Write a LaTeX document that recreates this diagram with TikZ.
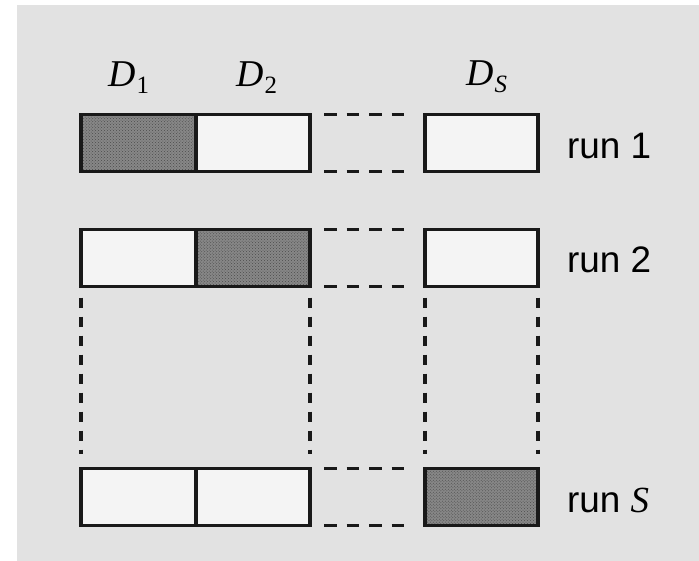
\documentclass[tikz,border=0pt]{standalone}
\usepackage{fontspec}
\setmainfont{Liberation Serif}
\setsansfont{Liberation Sans}
\usetikzlibrary{patterns}
\definecolor{bg}{RGB}{226,226,226}
\definecolor{cellfill}{RGB}{244,244,244}
\definecolor{shadefill}{RGB}{135,135,135}
\newcommand{\Dlab}[1]{\fontsize{38}{38}\selectfont\textit{D}\kern1bp\raisebox{-7bp}{\fontsize{25}{25}\selectfont #1}}
\begin{document}
\begin{tikzpicture}[x=1bp,y=-1bp,
  cell/.style={draw=black!90, line width=3.8bp, minimum width=#1, minimum height=57bp,
    inner sep=0pt, outer sep=0pt, fill=cellfill},
  hotcell/.style={draw=black!90, line width=3.8bp, minimum width=#1, minimum height=57bp,
    inner sep=0pt, outer sep=0pt, preaction={fill=shadefill},
    pattern=crosshatch dots, pattern color=black!70},
  hdash/.style={draw=black!90, line width=3.4bp, dash pattern=on 12.5bp off 10bp,
    shorten <=14bp, shorten >=21bp},
  vdash/.style={draw=black!90, line width=3.4bp, dash pattern=on 10bp off 9bp,
    shorten <=11bp, shorten >=15bp},
  dlab/.style={anchor=base west, inner sep=0pt},
  runlab/.style={anchor=base west, inner sep=0pt, font=\sffamily\fontsize{37}{37}\selectfont}
]
\useasboundingbox (0,0) rectangle (699,561);
\fill[white] (0,0) rectangle (699,561);
\fill[bg] (17,5) rectangle (699,561);

% column labels
\node[dlab] (d1) at (108,87) {\Dlab{1}};
\node[dlab] (d2) at (236,87) {\Dlab{2}};
\node[dlab] (ds) at (466,86) {\Dlab{\textit{S}}};

% run 1
\node[hotcell=115bp] (r1a) at (138.5,143) {};
\node[cell=114bp] (r1b) at (253,143) {};
\node[cell=113bp] (r1s) at (481.5,143) {};
% run 2
\node[cell=115bp] (r2a) at (138.5,258) {};
\node[hotcell=114bp] (r2b) at (253,258) {};
\node[cell=113bp] (r2s) at (481.5,258) {};
% run S
\node[cell=115bp] (rSa) at (138.5,497) {};
\node[cell=114bp] (rSb) at (253,497) {};
\node[hotcell=113bp] (rSs) at (481.5,497) {};

% redraw outer borders over pattern edges
\foreach \n in {r1a,r1b,r1s,r2a,r2b,r2s,rSa,rSb,rSs}
  \draw[black!90, line width=3.8bp] (\n.north west) rectangle (\n.south east);

% horizontal dashed connectors
\foreach \r in {r1,r2,rS}{
  \draw[hdash] (\r b.north east) -- (\r s.north west);
  \draw[hdash] (\r b.south east) -- (\r s.south west);
}

% vertical dashed connectors
\draw[vdash] (r2a.south west) -- (rSa.north west);
\draw[vdash] (r2b.south east) -- (rSb.north east);
\draw[vdash] (r2s.south west) -- (rSs.north west);
\draw[vdash] (r2s.south east) -- (rSs.north east);

% row labels
\node[runlab] (l1) at (567,159) {run 1};
\node[runlab] (l2) at (567,273) {run 2};
\node[runlab] (lS) at (567,512) {run {\rmfamily\itshape S}};
\end{tikzpicture}
\end{document}
